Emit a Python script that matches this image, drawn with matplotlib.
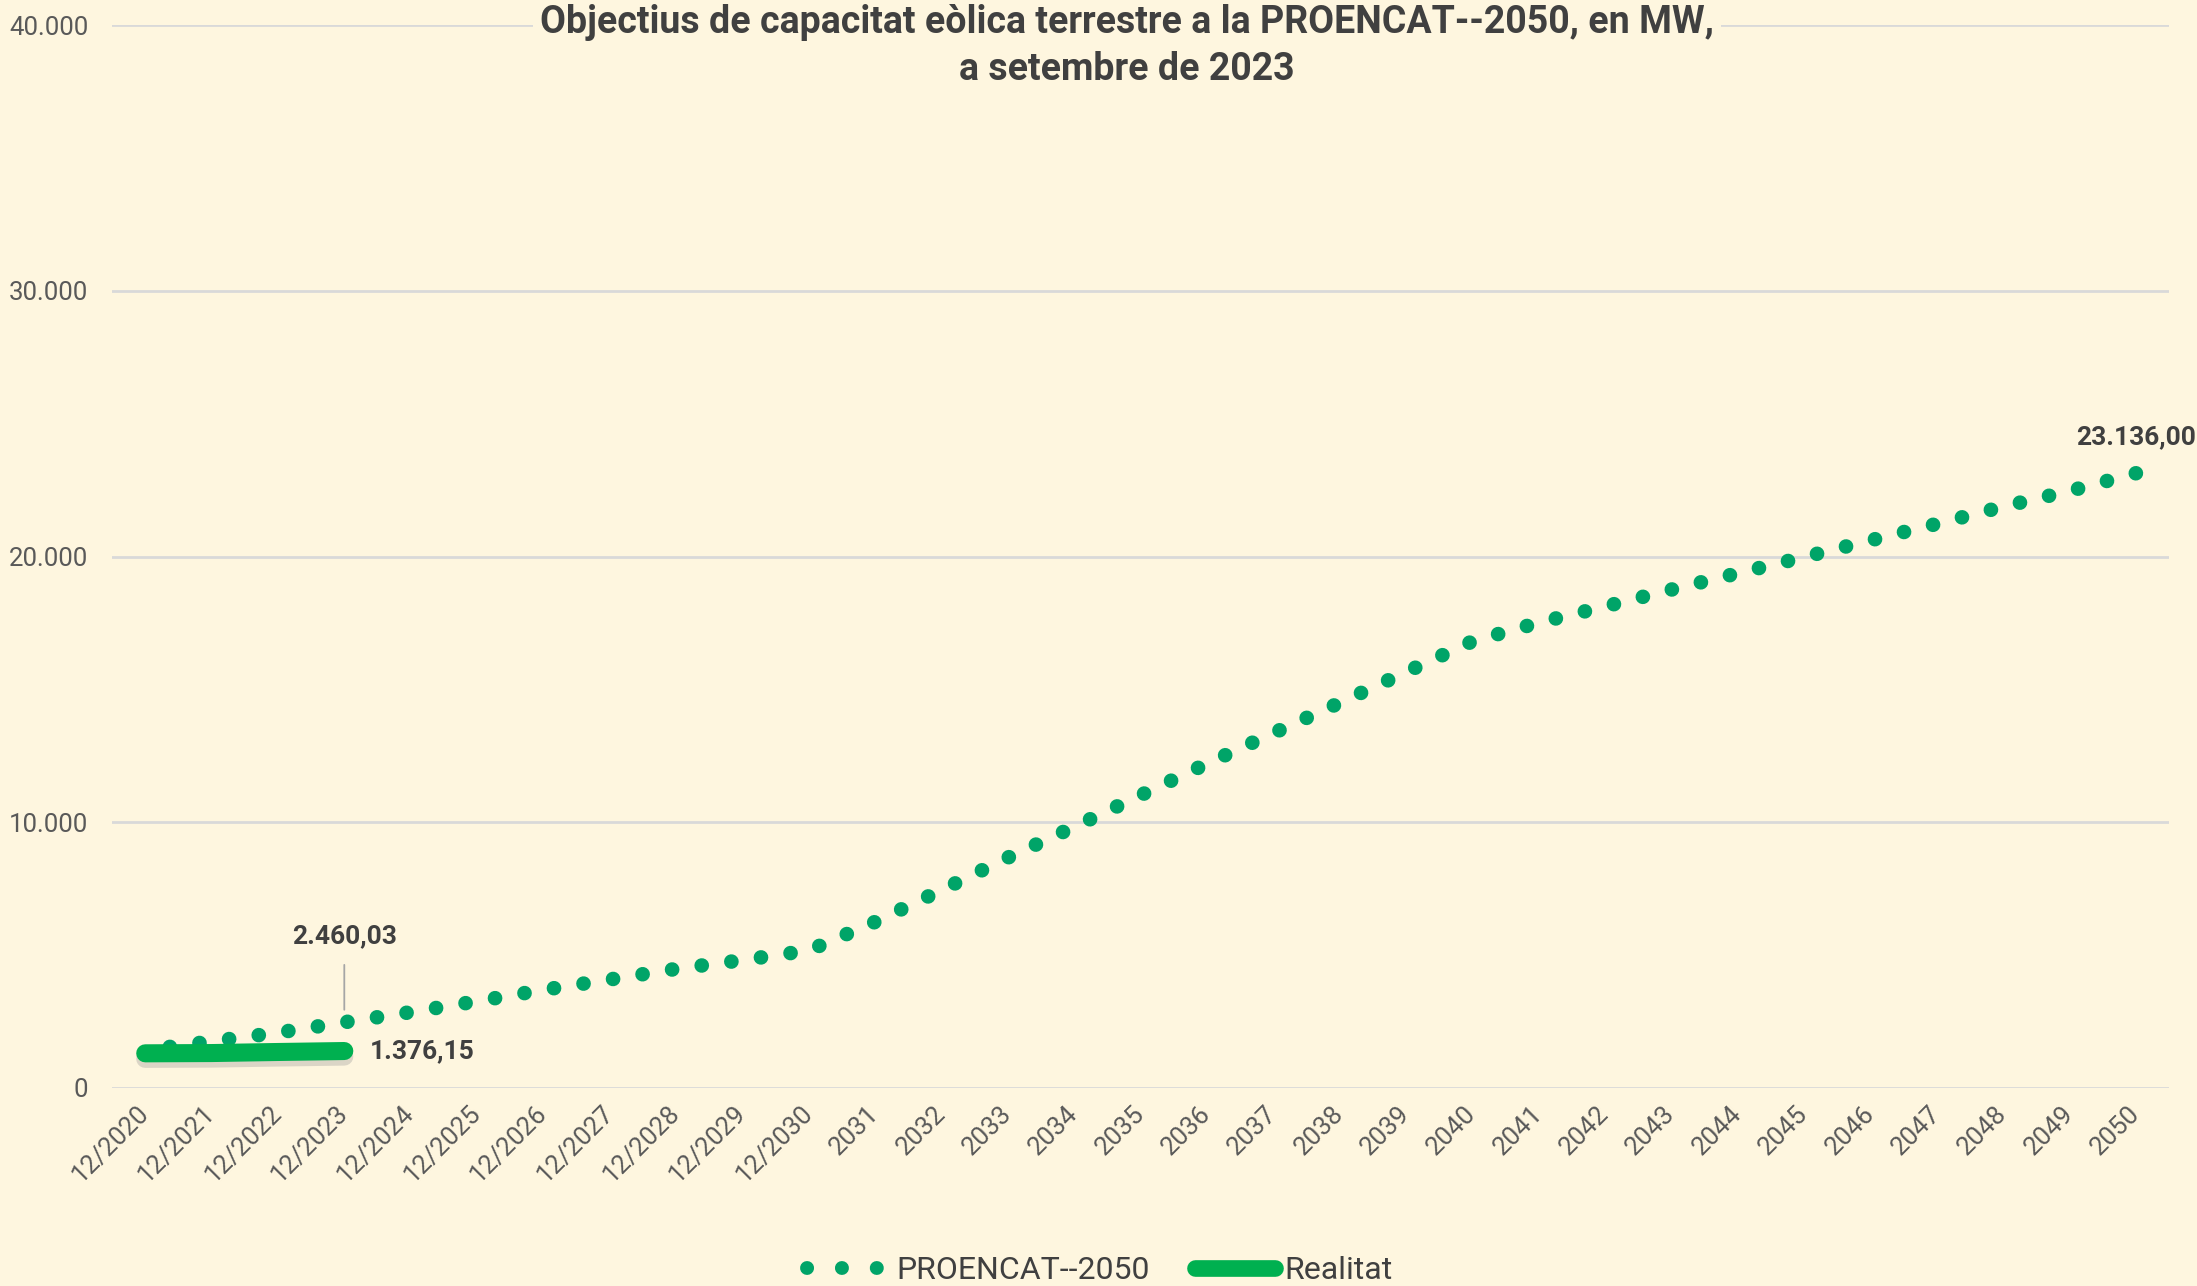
import numpy as np
import matplotlib
matplotlib.use("Agg")
import matplotlib.pyplot as plt
import matplotlib.patheffects as pe
from matplotlib.lines import Line2D

# categories (eix X)
periods = ["12/2020", "12/2021", "12/2022", "12/2023", "12/2024", "12/2025",
           "12/2026", "12/2027", "12/2028", "12/2029", "12/2030",
           "2031", "2032", "2033", "2034", "2035", "2036", "2037", "2038",
           "2039", "2040", "2041", "2042", "2043", "2044", "2045", "2046",
           "2047", "2048", "2049", "2050"]

# objectius PROENCAT-2050 (MW), llegits del gràfic
proencat = [1410, 1740, 2070, 2460.03, 2840, 3250, 3680, 4070, 4470, 4800,
            5165, 6240, 7440, 8660, 9820, 11010, 12200, 13350, 14490, 15650,
            16805, 17510, 18120, 18755, 19370, 19980, 20610, 21230, 21880,
            22470, 23136.00]

# potencia real instal·lada (MW)
realitat = [1290, 1300, 1340, 1376.15]

bg = "#FEF6DF"
green_dots = "#00A468"
green_real = "#00B050"
font = ["Roboto", "DejaVu Sans"]

fig = plt.figure(figsize=(21.97, 12.86), dpi=100, facecolor=bg)
ax = fig.add_axes([0.051, 0.1543, 0.9363, 0.8259], facecolor=bg)

x = np.arange(len(periods))
# dibuixada del final cap a l'inici perquè el punt de 2050 quedi marcat
ax.plot(x[::-1], proencat[::-1], color=green_dots, lw=10.5, linestyle=(0, (0.01, 2.04)),
        dash_capstyle="round", zorder=3)
ax.plot(x[:len(realitat)], realitat, color=green_real, lw=13, solid_capstyle="round",
        zorder=4, path_effects=[pe.SimpleLineShadow(offset=(0, -4), shadow_color="#9a9a9a", alpha=0.35),
                                pe.Normal()])

ax.set_xlim(-0.5, len(periods) - 0.5)
ax.set_ylim(0, 40000)
ax.set_yticks([0, 10000, 20000, 30000, 40000])
ax.set_yticklabels([f"{v:,.0f}".replace(",", ".") for v in [0, 10000, 20000, 30000, 40000]])
ax.set_xticks(x)
ax.set_xticklabels(periods, rotation=45, ha="right", va="center", rotation_mode="anchor")
ax.yaxis.grid(True, color="#D9D9D9", lw=2)
ax.set_axisbelow(True)
for s in ax.spines.values():
    s.set_visible(False)
ax.tick_params(axis="both", length=0, colors="#595959", labelsize=18.5)
ax.tick_params(axis="y", pad=17)
ax.tick_params(axis="x", pad=16)
for lab in ax.get_xticklabels() + ax.get_yticklabels():
    lab.set_family(font)

# etiquetes de dades
lbl = dict(fontsize=19, fontweight="bold", color="#404040", family=font)
ax.annotate("2.460,03", xy=(3, proencat[3]), xytext=(3, 5700), ha="center", va="center",
            arrowprops=dict(arrowstyle="-", color="#A6A6A6", lw=1.3, shrinkA=10, shrinkB=9), **lbl)
ax.text(3.39, realitat[3], "1.376,15", ha="left", va="center", **lbl)
ax.text(len(periods) - 1, 24500, "23.136,00", ha="center", va="center", clip_on=False, **lbl)

fig.text(0.513, 0.997, "Objectius de capacitat eòlica terrestre a la PROENCAT--2050, en MW,\na setembre de 2023",
         ha="center", va="top", fontsize=27, fontweight="bold", color="#404040", linespacing=1.35,
         family=font, bbox=dict(facecolor=bg, edgecolor="none", pad=5))

handles = [Line2D([], [], color=green_dots, lw=10, linestyle=(0, (0.01, 2.5)), dash_capstyle="round"),
           Line2D([], [], color=green_real, lw=12, solid_capstyle="round")]
fig.legend(handles, ["PROENCAT--2050", "Realitat"], loc="center", bbox_to_anchor=(0.5006, 0.012),
           ncol=2, frameon=False, handlelength=2.5, handletextpad=0.3, columnspacing=1.4,
           prop=dict(family=font, size=23), labelcolor="#404040")

fig.savefig("out.png", dpi=100, facecolor=bg)
